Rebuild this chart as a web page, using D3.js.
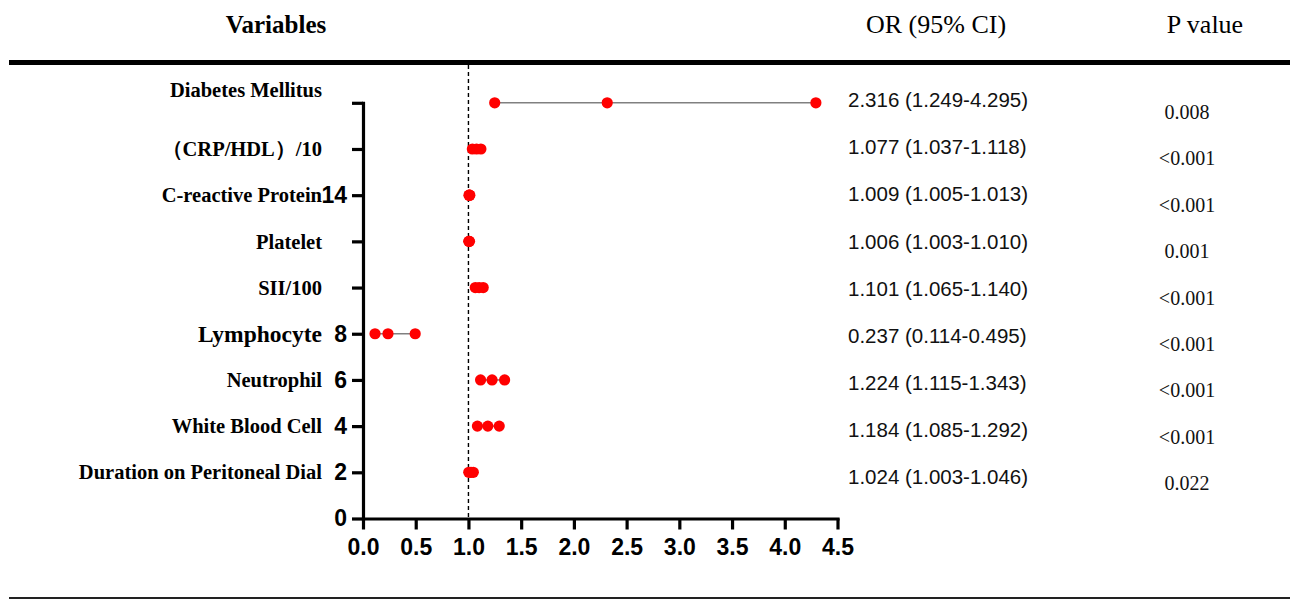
<!DOCTYPE html>
<html>
<head>
<meta charset="utf-8">
<script src="https://cdn.jsdelivr.net/npm/d3@7"></script>
<style>
	body { margin: 0; background: #fff; }
	svg { display: block; }
</style>
</head>
<body>
<div id="forest_plot"></div>
<script>
// variables, top to bottom, with their row position on the y axis
var variables = ["Diabetes Mellitus", "\uFF08CRP/HDL\uFF09/10", "C-reactive Protein", "Platelet",
	"SII/100", "Lymphocyte", "Neutrophil", "White Blood Cell", "Duration on Peritoneal Dial"];
var rowPos = [18, 16, 14, 12, 10, 8, 6, 4, 2];

// odds ratios and 95% confidence intervals
var orValues = [2.316, 1.077, 1.009, 1.006, 1.101, 0.237, 1.224, 1.184, 1.024];
var ciLower = [1.249, 1.037, 1.005, 1.003, 1.065, 0.114, 1.115, 1.085, 1.003];
var ciUpper = [4.295, 1.118, 1.013, 1.010, 1.140, 0.495, 1.343, 1.292, 1.046];
var pValues = ["0.008", "<0.001", "<0.001", "0.001", "<0.001", "<0.001", "<0.001", "<0.001", "0.022"];

// axis ticks
var xTicks = [0, 0.5, 1, 1.5, 2, 2.5, 3, 3.5, 4, 4.5];
var yTicks = [0, 2, 4, 6, 8, 10, 12, 14, 16, 18];
var yTickLabelsShown = [0, 2, 4, 6, 8, 14];

var headers = {variables: "Variables", or: "OR (95% CI)", p: "P value"};

var SERIF = "'Liberation Serif', 'Times New Roman', serif";
var SANS = "'Liberation Sans', Arial, sans-serif";

function drawPlot()
{
	var width = 1290, height = 599;

	var svg = d3.select("#forest_plot").append("svg")
		.attr("width", width)
		.attr("height", height);

	var xScale = d3.scaleLinear().domain([0, 4.5]).range([363, 837.5]);
	var yScale = d3.scaleLinear().domain([0, 18]).range([518.5, 102.8]);

	// table text rows are spaced a little differently from the plot rows
	var orRow = d3.scaleLinear().domain([0, variables.length - 1]).range([100, 477]);
	var pRow = d3.scaleLinear().domain([0, variables.length - 1]).range([112, 483]);

	// header
	svg.append("text")
		.attr("x", 276).attr("y", 33)
		.attr("text-anchor", "middle")
		.style("font-family", SERIF).style("font-weight", "bold").style("font-size", "25px")
		.text(headers.variables);
	svg.append("text")
		.attr("x", 936).attr("y", 33)
		.attr("text-anchor", "middle")
		.style("font-family", SERIF).style("font-size", "26px")
		.text(headers.or);
	svg.append("text")
		.attr("x", 1205).attr("y", 33)
		.attr("text-anchor", "middle")
		.style("font-family", SERIF).style("font-size", "26px")
		.text(headers.p);

	svg.append("line")
		.attr("x1", 9).attr("x2", width)
		.attr("y1", 62.5).attr("y2", 62.5)
		.attr("stroke", "#000").attr("stroke-width", 5);

	svg.append("line")
		.attr("x1", 9).attr("x2", width)
		.attr("y1", 598).attr("y2", 598)
		.attr("stroke", "#222").attr("stroke-width", 2);

	// reference line at OR = 1
	svg.append("line")
		.attr("x1", xScale(1)).attr("x2", xScale(1))
		.attr("y1", 65).attr("y2", yScale(0))
		.attr("stroke", "#000").attr("stroke-width", 1.4)
		.attr("stroke-dasharray", "4,3");

	// axes
	var yAxis = d3.axisLeft(yScale)
		.tickValues(yTicks)
		.tickSize(11)
		.tickSizeOuter(0)
		.tickPadding(5)
		.tickFormat(function(d) { return yTickLabelsShown.indexOf(d) >= 0 ? d : ""; });

	var xAxis = d3.axisBottom(xScale)
		.tickValues(xTicks)
		.tickSize(11)
		.tickSizeOuter(0)
		.tickPadding(9)
		.tickFormat(d3.format(".1f"));

	var gy = svg.append("g").attr("transform", "translate(" + xScale(0) + ",0)").call(yAxis);
	var gx = svg.append("g").attr("transform", "translate(0," + yScale(0) + ")").call(xAxis);

	[gx, gy].forEach(function(g) {
		g.select(".domain").attr("stroke-width", 3.2).attr("stroke-linecap", "square");
		g.selectAll(".tick line").attr("stroke-width", 3.2);
		g.selectAll(".tick text")
			.attr("fill", "#000")
			.style("font-family", SANS).style("font-weight", "bold").style("font-size", "23px");
	});

	// variable labels
	svg.selectAll("text.var-label")
		.data(variables)
		.enter().append("text")
		.attr("class", "var-label")
		.attr("x", 322)
		.attr("y", function(d, i) { return yScale(rowPos[i]) - (i === 0 ? 13 : 0); })
		.attr("dy", "0.35em")
		.attr("text-anchor", "end")
		.style("font-family", SERIF).style("font-weight", "bold")
		.style("font-size", function(d) { return d === "Lymphocyte" ? "23.5px" : "20.5px"; })
		.text(function(d) { return d; });

	// CI lines and points
	var rows = svg.selectAll("g.row")
		.data(variables)
		.enter().append("g")
		.attr("class", "row");

	rows.append("line")
		.attr("x1", function(d, i) { return xScale(ciLower[i]); })
		.attr("x2", function(d, i) { return xScale(ciUpper[i]); })
		.attr("y1", function(d, i) { return yScale(rowPos[i]); })
		.attr("y2", function(d, i) { return yScale(rowPos[i]); })
		.attr("stroke", "#808080").attr("stroke-width", 1.6);

	rows.each(function(d, i) {
		d3.select(this).selectAll("circle")
			.data([ciLower[i], orValues[i], ciUpper[i]])
			.enter().append("circle")
			.attr("cx", function(v) { return xScale(v); })
			.attr("cy", yScale(rowPos[i]))
			.attr("r", 5.6)
			.attr("fill", "#ff0000");
	});

	// OR (95% CI) column
	var fmt = d3.format(".3f");
	svg.selectAll("text.or-text")
		.data(variables)
		.enter().append("text")
		.attr("class", "or-text")
		.attr("x", 848)
		.attr("y", function(d, i) { return orRow(i); })
		.attr("dy", "0.35em")
		.style("font-family", SANS).style("font-size", "20.5px").attr("fill", "#111")
		.text(function(d, i) {
			return fmt(orValues[i]) + " (" + fmt(ciLower[i]) + "-" + fmt(ciUpper[i]) + ")";
		});

	// P value column
	svg.selectAll("text.p-text")
		.data(pValues)
		.enter().append("text")
		.attr("class", "p-text")
		.attr("x", 1187)
		.attr("y", function(d, i) { return pRow(i); })
		.attr("dy", "0.35em")
		.attr("text-anchor", "middle")
		.style("font-family", SERIF).style("font-size", "20px").attr("fill", "#111")
		.text(function(d) { return d; });
}

drawPlot();
</script>
</body>
</html>
